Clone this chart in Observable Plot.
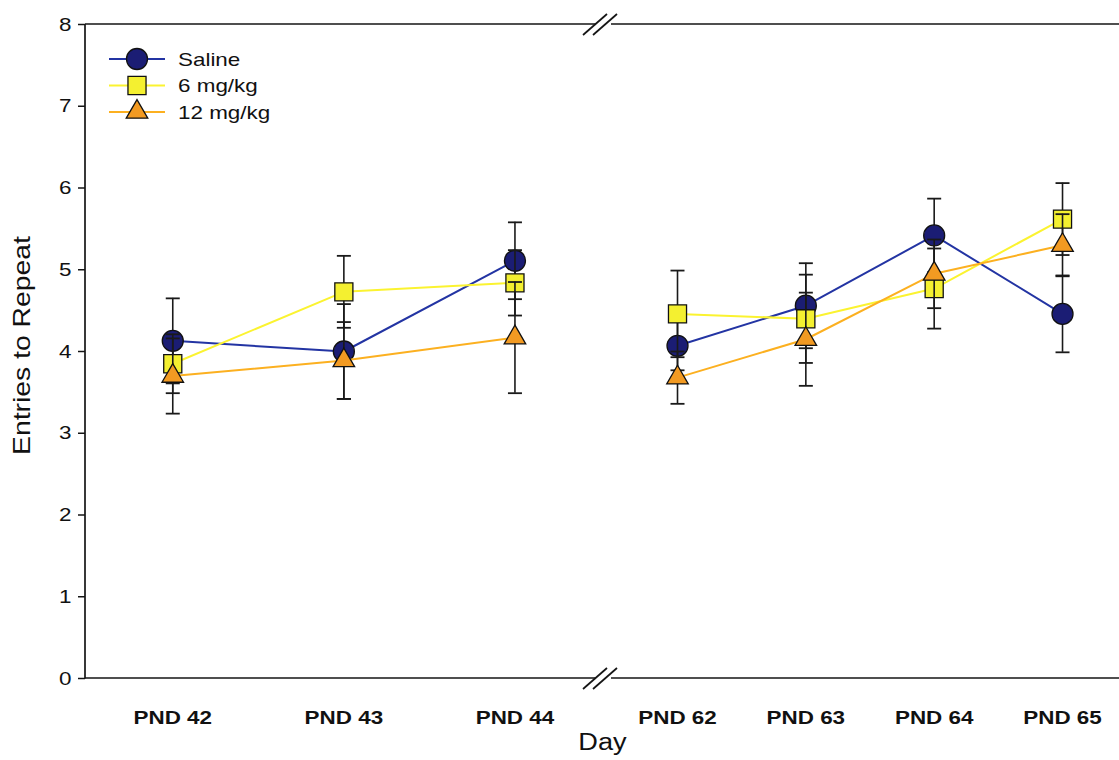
<!DOCTYPE html>
<html>
<head>
<meta charset="utf-8">
<script src="https://cdn.jsdelivr.net/npm/d3@7"></script>
<script src="https://cdn.jsdelivr.net/npm/@observablehq/plot@0.6"></script>
<style>
  html, body { margin: 0; padding: 0; background: #ffffff; }
  #chart { width: 1119px; height: 760px; }
</style>
</head>
<body>
<div id="chart"></div>
<script>
// Postnatal days tested (two blocks separated by an axis break)
const days = [42, 43, 44, 62, 63, 64, 65];
const yTicks = [0, 1, 2, 3, 4, 5, 6, 7, 8];

// Mean entries to repeat (± SEM) per treatment group
const groups = ["Saline", "6 mg/kg", "12 mg/kg"];
const salineMean = [4.13, 4.00, 5.11, 4.07, 4.56, 5.42, 4.46];
const salineSem  = [0.52, 0.58, 0.47, 0.30, 0.52, 0.45, 0.47];
const mg6Mean    = [3.85, 4.73, 4.84, 4.46, 4.40, 4.77, 5.62];
const mg6Sem     = [0.36, 0.44, 0.40, 0.53, 0.54, 0.49, 0.44];
const mg12Mean   = [3.70, 3.89, 4.17, 3.68, 4.15, 4.95, 5.30];
const mg12Sem    = [0.46, 0.47, 0.68, 0.32, 0.57, 0.42, 0.38];

const styles = {
  "Saline":   {line: "#2334a3", fill: "#1b1d74", symbol: "circle",   r: 10.5},
  "6 mg/kg":  {line: "#fbf330", fill: "#f4f030", symbol: "square",   r: 10.2},
  "12 mg/kg": {line: "#fcb020", fill: "#f29a22", symbol: "triangle", r: 8.0}
};

const series = [
  {name: "Saline",   mean: salineMean, sem: salineSem},
  {name: "6 mg/kg",  mean: mg6Mean,    sem: mg6Sem},
  {name: "12 mg/kg", mean: mg12Mean,   sem: mg12Sem}
];

const rows = series.map(s => days.map((day, i) => ({
  group: s.name,
  day,
  block: day < 50 ? "adolescent" : "adult",
  mean: s.mean[i],
  sem: s.sem[i]
})));

// Piecewise x scale: the gap between the two blocks collapses at the break
const xDomain = [41.49, 44.5, 61.4, 65.444];
const xRange = [85, 600, 600, 1119];
const breakDay = 44.5;

// Wide Helvetica-style lettering: glyphs are widened along the baseline
const textStretch = 1.18;

// Horizontal error-bar cap drawn as a custom symbol
const capSymbol = {
  draw(context, size) {
    const w = Math.sqrt(size / Math.PI);
    context.moveTo(-w, 0);
    context.lineTo(w, 0);
  }
};

// Axis lines with the "//" break on the bottom and top edges
function brokenFrame(index, scales, values, dims) {
  const x = scales.x;
  const left = dims.marginLeft, right = dims.width - dims.marginRight;
  const top = dims.marginTop, bottom = dims.height - dims.marginBottom;
  const bx = x(breakDay);
  const g = d3.create("svg:g")
    .attr("fill", "none")
    .attr("stroke", "#151515")
    .attr("stroke-width", 1.7);
  g.append("line").attr("x1", left).attr("x2", left).attr("y1", top).attr("y2", bottom + 0.5);
  for (const yy of [top, bottom]) {
    g.append("line").attr("x1", left).attr("x2", bx - 4).attr("y1", yy).attr("y2", yy);
    g.append("line").attr("x1", bx + 11).attr("x2", right).attr("y1", yy).attr("y2", yy);
    for (const off of [-5, 5]) {
      g.append("line")
        .attr("x1", bx + off - 12).attr("y1", yy + 11)
        .attr("x2", bx + off + 12).attr("y2", yy - 10);
    }
  }
  return g.node();
}

// Legend in the upper-left corner of the frame
function legend(index, scales, values, dims) {
  const left = dims.marginLeft, top = dims.marginTop;
  const g = d3.create("svg:g");
  groups.forEach((name, i) => {
    const st = styles[name];
    const cy = top + 35 + i * 26.5;
    g.append("line")
      .attr("x1", left + 24).attr("x2", left + 80)
      .attr("y1", cy).attr("y2", cy)
      .attr("stroke", st.line).attr("stroke-width", 2);
    const type = {circle: d3.symbolCircle, square: d3.symbolSquare, triangle: d3.symbolTriangle}[st.symbol];
    g.append("path")
      .attr("transform", `translate(${left + 52},${cy})`)
      .attr("d", d3.symbol(type, Math.PI * st.r * st.r)())
      .attr("fill", st.fill).attr("stroke", "#111").attr("stroke-width", 1.3);
    g.append("text")
      .attr("x", left + 93).attr("y", cy)
      .attr("dy", "0.35em")
      .attr("text-anchor", "start")
      .attr("fill", "#111")
      .attr("font-size", 19)
      .text(name);
  });
  return g.node();
}

const seriesMarks = rows.flatMap(data => {
  const st = styles[data[0].group];
  return [
    Plot.line(data, {x: "day", y: "mean", z: "block", stroke: st.line, strokeWidth: 2}),
    Plot.ruleX(data, {x: "day", y1: d => d.mean - d.sem, y2: d => d.mean + d.sem, stroke: "#1a1a1a", strokeWidth: 1.6}),
    Plot.dot(data, {x: "day", y: d => d.mean - d.sem, symbol: capSymbol, r: 7, stroke: "#1a1a1a", strokeWidth: 1.8, fill: "none"}),
    Plot.dot(data, {x: "day", y: d => d.mean + d.sem, symbol: capSymbol, r: 7, stroke: "#1a1a1a", strokeWidth: 1.8, fill: "none"}),
    Plot.dot(data, {x: "day", y: "mean", symbol: st.symbol, r: st.r, fill: st.fill, stroke: "#111", strokeWidth: 1.3})
  ];
});

const chart = Plot.plot({
  width: 1119,
  height: 760,
  marginLeft: 85,
  marginRight: 0,
  marginTop: 24,
  marginBottom: 82,
  style: {fontFamily: "'Liberation Sans', Arial, Helvetica, sans-serif", fontSize: "19px", color: "#111", background: "#ffffff"},
  x: {type: "linear", domain: xDomain, range: xRange},
  y: {domain: [0, 8]},
  marks: [
    Plot.axisY({ticks: yTicks, tickSize: 7, tickPadding: 7, fontSize: 19, label: null, stroke: "#151515", strokeWidth: 1.5}),
    Plot.axisX({ticks: days, tickFormat: d => `PND ${d}`, tickSize: 0, tickPadding: 32, fontSize: 19, fontWeight: "bold", label: null}),
    Plot.text(["Entries to Repeat"], {frameAnchor: "left", textAnchor: "middle", dx: -63, dy: -6, rotate: -90, fontSize: 24, fill: "#111"}),
    Plot.text(["Day"], {frameAnchor: "bottom", textAnchor: "middle", dy: 71, fontSize: 23, fill: "#111"}),
    brokenFrame,
    ...seriesMarks,
    legend
  ]
});

document.getElementById("chart").append(chart);

// Widen every label along its baseline once it is laid out
chart.querySelectorAll("text").forEach(t => {
  const len = t.getComputedTextLength();
  if (len > 0) {
    t.setAttribute("textLength", (len * textStretch).toFixed(1));
    t.setAttribute("lengthAdjust", "spacingAndGlyphs");
  }
});
</script>
</body>
</html>
